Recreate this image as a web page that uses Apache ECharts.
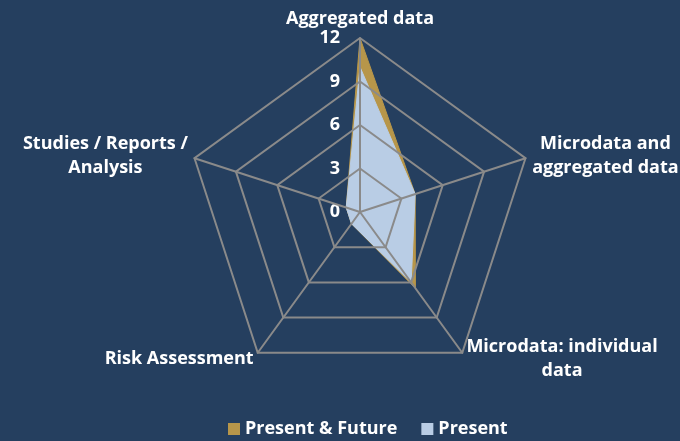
<!DOCTYPE html>
<html lang="en">
<head>
    <meta charset="UTF-8">
    <title>Radar</title>
    <script src="https://cdn.jsdelivr.net/npm/echarts@6/dist/echarts.min.js"></script>
    <style>
        body { margin: 0; background: #253f5f; }
    </style>
</head>
<body>
    <div id="main" style="width: 680px;height:441px;"></div>
    <script type="text/javascript">
        // indicators in clockwise order starting from the top
        const categories = ['Aggregated data', 'Studies / Reports /\nAnalysis', 'Risk Assessment',
            'Microdata: individual\ndata', 'Microdata and\naggregated data'];
        const presentFuture = [12, 1, 1, 6.5, 4];
        const present = [10, 1, 1, 6, 4];
        const tickMax = 12;
        const tickStep = 3;

        const font = 'Open Sans';
        const fs = 18;
        const gridColor = '#8a8a8a';

        const indicators = categories.map(c => ({ name: c, max: tickMax, min: 0 }));

        function nameFmt(name) {
            return name.split('\n').map(l => '{c|' + l + '}').join('\n');
        }

        const baseRadar = {
            center: [360, 212],
            radius: 174,
            startAngle: 90,
            splitNumber: tickMax / tickStep,
            shape: 'polygon',
            indicator: indicators
        };

        let options = {
            backgroundColor: '#253f5f',
            animation: false,
            legend: {
                top: 415,
                left: 223,
                icon: 'rect',
                itemWidth: 12,
                itemHeight: 12,
                itemGap: 24,
                textStyle: { color: '#fff', fontFamily: font, fontWeight: 'bold', fontSize: fs },
                data: ['Present & Future', 'Present']
            },
            radar: [
                Object.assign({}, baseRadar, {
                    z: 1,
                    axisName: { show: false },
                    axisLine: { show: false },
                    splitLine: { show: false },
                    splitArea: { show: false }
                }),
                Object.assign({}, baseRadar, {
                    z: 5,
                    nameGap: 7,
                    axisName: {
                        color: '#fff',
                        fontFamily: font,
                        fontWeight: 'bold',
                        fontSize: fs,
                        lineHeight: 24,
                        formatter: nameFmt,
                        rich: { c: { color: '#fff', fontFamily: font, fontWeight: 'bold', fontSize: fs, lineHeight: 24, align: 'center' } }
                    },
                    axisLine: { lineStyle: { color: gridColor, width: 2 } },
                    splitLine: { lineStyle: { color: gridColor, width: 2 } },
                    splitArea: { show: false }
                })
            ],
            // value axis along the top spoke, only for tick labels
            grid: { left: 360, top: 38, width: 1, height: 174 },
            xAxis: { type: 'value', show: false },
            yAxis: {
                type: 'value', min: 0, max: tickMax, interval: tickStep,
                axisLine: { show: false }, axisTick: { show: false }, splitLine: { show: false },
                axisLabel: { color: '#fff', fontFamily: font, fontWeight: 'bold', fontSize: fs, margin: 20 }
            },
            series: [{
                type: 'radar',
                radarIndex: 0,
                symbol: 'none',
                data: [
                    {
                        name: 'Present & Future',
                        value: presentFuture,
                        itemStyle: { color: '#b7964a' },
                        lineStyle: { color: '#b7964a', width: 1 },
                        areaStyle: { color: '#b7964a', opacity: 1 }
                    },
                    {
                        name: 'Present',
                        value: present,
                        itemStyle: { color: '#b9cde5' },
                        lineStyle: { color: '#b9cde5', width: 1 },
                        areaStyle: { color: '#b9cde5', opacity: 1 }
                    }
                ]
            }]
        };

        let myChart = echarts.init(document.getElementById('main'));
        myChart.setOption(options);
    </script>
</body>
</html>
